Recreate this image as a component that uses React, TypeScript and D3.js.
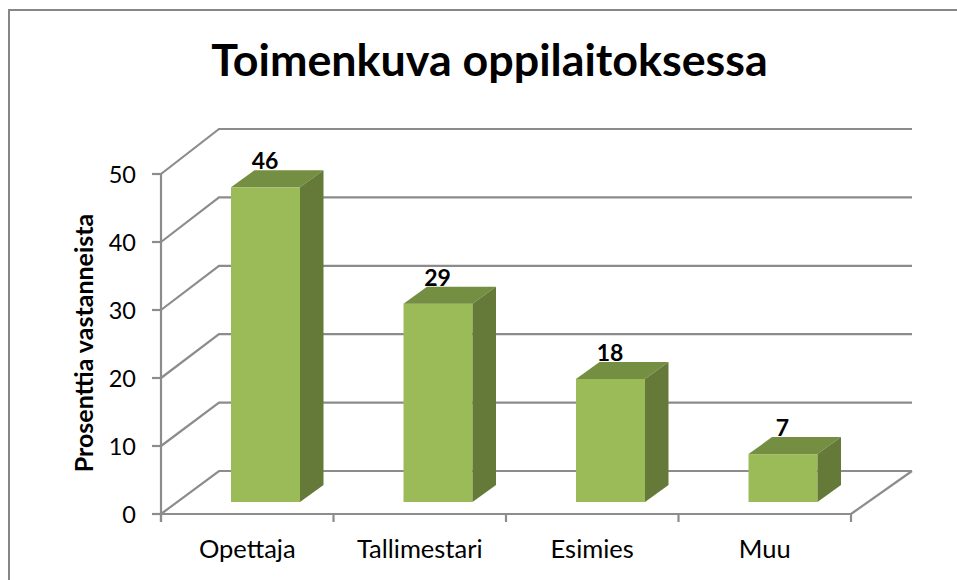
import React from "react";
import * as d3 from "d3";

const categories = ["Opettaja", "Tallimestari", "Esimies", "Muu"];
const values = [46, 29, 18, 7];
const yTicks = [0, 10, 20, 30, 40, 50];
const titleText = "Toimenkuva oppilaitoksessa";
const yAxisTitle = "Prosenttia vastanneista";

const W = 957, H = 580;
const FONT = "Lato, 'Open Sans', sans-serif";
const AXIS = "#8c8c8c";
const x0 = 161, x1 = 851;
const wallDx = 58;                 // floor depth
const sideDx = 23.5, sideDy = -17; // depth of a bar

export default function App() {
  const x = d3.scaleBand<string>().domain(categories).range([x0, x1]);
  const yFront = d3.scaleLinear().domain([0, 50]).range([514, 174]);
  const yBack = d3.scaleLinear().domain([0, 50]).range([471, 129]);
  const yBar = d3.scaleLinear().domain([0, 50]).range([502, 160]);
  const barW = 69;
  return (
    <svg width={W} height={H} viewBox={`0 0 ${W} ${H}`} style={{ position: "absolute", left: 0, top: 0, background: "#fff" }}>
      <rect x={9} y={10} width={1000} height={640} fill="#fff" stroke="#868686" strokeWidth={2} />
      <text x={489.5} y={76} textAnchor="middle" fontFamily={FONT} fontWeight={700} fontSize={44.8} fill="#000">{titleText}</text>

      {/* walls and gridlines */}
      {yTicks.map((t) => (
        <g key={t} fill="none" stroke={AXIS} strokeWidth={2.2}>
          <polyline points={`${x0},${yFront(t)} ${x0 + wallDx},${yBack(t)} ${x1 + wallDx + 3},${yBack(t)}`} />
          <line x1={x0 - 9} x2={x0} y1={yFront(t)} y2={yFront(t)} />
        </g>
      ))}
      <g fill="none" stroke={AXIS} strokeWidth={2.2}>
        <line x1={x0} x2={x0} y1={yFront(50)} y2={yFront(0) + 8} />
        <line x1={x0} x2={x1} y1={yFront(0)} y2={yFront(0)} />
        <line x1={x1} x2={x1 + wallDx + 3} y1={yFront(0)} y2={yBack(0)} />
        {[...categories.map((c) => x(c) as number), x1].map((v) => (
          <line key={v} x1={v} x2={v} y1={yFront(0)} y2={yFront(0) + 8} />
        ))}
      </g>

      {/* bars */}
      {categories.map((c, i) => {
        const left = (x(c) as number) + x.bandwidth() / 2 + 18.25 - barW / 2;
        const right = left + barW;
        const bottom = yBar(0);
        const top = yBar(values[i]);
        return (
          <g key={c}>
            <rect x={left} y={top} width={barW} height={bottom - top} fill="#9bbb59" />
            <polygon points={`${left},${top} ${left + sideDx},${top + sideDy} ${right + sideDx},${top + sideDy} ${right},${top}`} fill="#748e42" />
            <polygon points={`${right},${top} ${right + sideDx},${top + sideDy} ${right + sideDx},${bottom + sideDy} ${right},${bottom}`} fill="#657a38" />
            <text x={left + 34} y={top - 18} textAnchor="middle" fontFamily={FONT} fontWeight={700} fontSize={23} fill="#000">{values[i]}</text>
            <text x={(x(c) as number) + x.bandwidth() / 2} y={558} textAnchor="middle" fontFamily={FONT} fontSize={25.5} fill="#000">{c}</text>
          </g>
        );
      })}

      {yTicks.map((t) => (
        <text key={t} x={136} y={yFront(t) + 8.5} textAnchor="end" fontFamily={FONT} fontSize={23.5} fill="#000">{t}</text>
      ))}
      <text transform="translate(93,343) rotate(-90)" textAnchor="middle" fontFamily={FONT} fontWeight={700} fontSize={25} fill="#000">{yAxisTitle}</text>
    </svg>
  );
}
